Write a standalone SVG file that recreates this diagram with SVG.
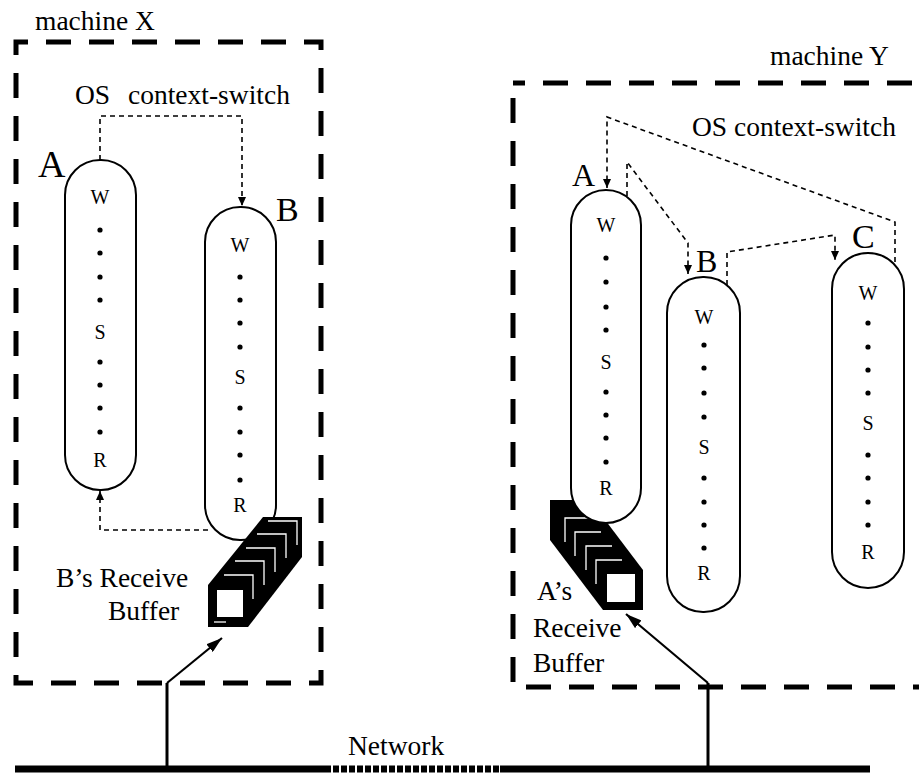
<svg xmlns="http://www.w3.org/2000/svg" width="919" height="776" viewBox="0 0 919 776">
<style>
text{font-family:"Liberation Serif","Times New Roman",serif;fill:#000}
.lbl{font-size:27.5px}
.st{font-size:20px;text-anchor:middle}
.box{fill:none;stroke:#000;stroke-width:5;stroke-dasharray:25 18;stroke-dashoffset:13}
.cap{fill:#fff;stroke:#000;stroke-width:2}
.dc{fill:none;stroke:#000;stroke-width:1.6;stroke-dasharray:5 4}
.sol{fill:none;stroke:#000;stroke-width:2.2}
.vert{fill:none;stroke:#000;stroke-width:3}
.net{fill:none;stroke:#000;stroke-width:7}
.card{fill:none;stroke:#fff;stroke-width:1.3}
</style>
<defs>
<marker id="ad" viewBox="0 0 9 8" refX="9" refY="4" markerWidth="9" markerHeight="8" markerUnits="userSpaceOnUse" orient="auto"><path d="M0,0 L9,4 L0,8 z" fill="#000" stroke="none"/></marker>
<marker id="as" viewBox="0 0 16 10" refX="16" refY="5" markerWidth="16" markerHeight="10" markerUnits="userSpaceOnUse" orient="auto"><path d="M0,0 L16,5 L0,10 z" fill="#000" stroke="none"/></marker>
</defs>
<rect width="919" height="776" fill="#fff"/>

<g id="machineX">
<rect class="box" x="16" y="42" width="305" height="641"/>
<text class="lbl" x="35" y="30">machine X</text>
<text class="lbl" x="75" y="104">OS</text>
<text class="lbl" x="128" y="104">context-switch</text>
</g>

<g id="machineY">
<rect class="box" x="513" y="83" width="420" height="604"/>
<text class="lbl" x="770" y="65">machine Y</text>
<text class="lbl" x="692" y="136">OS context-switch</text>
</g>

<g id="X_A">
<rect class="cap" x="65" y="160" width="71" height="330" rx="35" ry="35"/>
<text x="38" y="177" font-size="38">A</text>
<text class="st" x="100" y="204">W</text>
<g fill="#000"><circle cx="100" cy="230" r="2.6"/><circle cx="100" cy="253" r="2.6"/><circle cx="100" cy="277" r="2.6"/><circle cx="100" cy="300" r="2.6"/></g>
<text class="st" x="100" y="339">S</text>
<g fill="#000"><circle cx="100" cy="362" r="2.6"/><circle cx="100" cy="385" r="2.6"/><circle cx="100" cy="408" r="2.6"/><circle cx="100" cy="432" r="2.6"/></g>
<text class="st" x="100" y="467">R</text>
</g>

<g id="X_B">
<rect class="cap" x="205" y="207" width="71" height="333" rx="35" ry="35"/>
<text x="276" y="221" font-size="34">B</text>
<text class="st" x="240" y="252">W</text>
<g fill="#000"><circle cx="240" cy="277" r="2.6"/><circle cx="240" cy="300" r="2.6"/><circle cx="240" cy="323" r="2.6"/><circle cx="240" cy="347" r="2.6"/></g>
<text class="st" x="240" y="384">S</text>
<g fill="#000"><circle cx="240" cy="408" r="2.6"/><circle cx="240" cy="432" r="2.6"/><circle cx="240" cy="455" r="2.6"/><circle cx="240" cy="480" r="2.6"/></g>
<text class="st" x="240" y="512">R</text>
</g>

<g id="X_buffer">
<polygon points="208,627 208,585 263,517 302,517 302,557 248,627" fill="#000"/>
<rect x="217" y="590" width="26" height="27" fill="#fff"/>
<path class="card" d="M224,575 H253 V599 M235,561 H264 V585 M246,548 H275 V572 M257,534 H286 V558 M268,521 H297 V545"/>
<path class="card" d="M214,622 H226"/>
<text class="lbl" x="56" y="587">B’s Receive</text>
<text class="lbl" x="108" y="620">Buffer</text>
</g>

<g id="Y_buffer">
<polygon points="550,500 590,500 643,570 643,610 603,610 550,540" fill="#000"/>
<rect x="607" y="574" width="28" height="28" fill="#fff"/>
<path class="card" d="M565,542 V518 H591 M575,556 V532 H601 M586,570 V546 H612 M596,584 V560 H622"/>
<text class="lbl" x="537" y="600">A’s</text>
<text class="lbl" x="533" y="637">Receive</text>
<text class="lbl" x="533" y="672">Buffer</text>
</g>

<g id="Y_A">
<rect class="cap" x="571" y="190" width="70" height="333" rx="35" ry="35"/>
<text x="572" y="186" font-size="32">A</text>
<text class="st" x="606" y="232">W</text>
<g fill="#000"><circle cx="606" cy="258" r="2.6"/><circle cx="606" cy="282" r="2.6"/><circle cx="606" cy="307" r="2.6"/><circle cx="606" cy="330" r="2.6"/></g>
<text class="st" x="606" y="369">S</text>
<g fill="#000"><circle cx="606" cy="392" r="2.6"/><circle cx="606" cy="415" r="2.6"/><circle cx="606" cy="438" r="2.6"/><circle cx="606" cy="462" r="2.6"/></g>
<text class="st" x="606" y="495">R</text>
</g>

<g id="Y_B">
<rect class="cap" x="667" y="277" width="73" height="335" rx="36" ry="36"/>
<text x="696" y="272" font-size="32">B</text>
<text class="st" x="704" y="324">W</text>
<g fill="#000"><circle cx="704" cy="345" r="2.6"/><circle cx="704" cy="368" r="2.6"/><circle cx="704" cy="393" r="2.6"/><circle cx="704" cy="417" r="2.6"/></g>
<text class="st" x="704" y="454">S</text>
<g fill="#000"><circle cx="704" cy="478" r="2.6"/><circle cx="704" cy="502" r="2.6"/><circle cx="704" cy="525" r="2.6"/><circle cx="704" cy="548" r="2.6"/></g>
<text class="st" x="704" y="580">R</text>
</g>

<g id="Y_C">
<rect class="cap" x="832" y="253" width="72" height="335" rx="36" ry="36"/>
<text x="852" y="248" font-size="34">C</text>
<text class="st" x="868" y="300">W</text>
<g fill="#000"><circle cx="868" cy="323" r="2.6"/><circle cx="868" cy="347" r="2.6"/><circle cx="868" cy="370" r="2.6"/><circle cx="868" cy="393" r="2.6"/></g>
<text class="st" x="868" y="430">S</text>
<g fill="#000"><circle cx="868" cy="455" r="2.6"/><circle cx="868" cy="478" r="2.6"/><circle cx="868" cy="502" r="2.6"/><circle cx="868" cy="525" r="2.6"/></g>
<text class="st" x="868" y="559">R</text>
</g>

<g id="network">
<path class="net" d="M15,769 H325 M500,769 H870"/>
<path class="net" d="M325,769 H500" stroke-dasharray="6 2"/>
<text class="lbl" x="348" y="755">Network</text>
</g>

<g id="connectors">
<path class="dc" d="M100,160 V116 H242 V206" marker-end="url(#ad)"/>
<path class="dc" d="M208,530 H100 V491" marker-end="url(#ad)"/>
<path class="dc" d="M895,262 V222 L607,117 V188" marker-end="url(#ad)"/>
<path class="dc" d="M627,196 V162 L688,243 V274" marker-end="url(#ad)"/>
<path class="dc" d="M727,285 V252 L835,235 V260" marker-end="url(#ad)"/>
<path class="vert" d="M167,768 V683"/>
<path class="sol" d="M167,683 L222,638" marker-end="url(#as)"/>
<path class="vert" d="M708,769 V683"/>
<path class="sol" d="M708,683 L626,614" marker-end="url(#as)"/>
</g>
</svg>
